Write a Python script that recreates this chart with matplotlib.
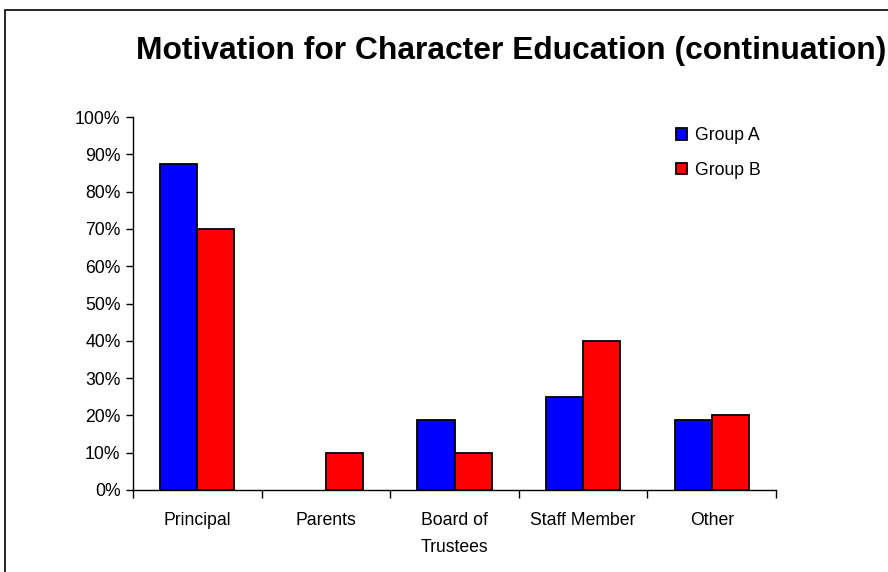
"""Grouped bar chart: motivation for character education (continuation)."""

import matplotlib
matplotlib.use('Agg')
import matplotlib.pyplot as plt
import numpy as np
from matplotlib.patches import Rectangle
from matplotlib.ticker import FuncFormatter, FixedLocator


categories = ['Principal', 'Parents', 'Board of\nTrustees', 'Staff Member', 'Other']
group_a = [87.5, 0.0, 18.75, 25.0, 18.75]
group_b = [70.0, 10.0, 10.0, 40.0, 20.0]
series_names = ['Group A', 'Group B']
title = 'Motivation for Character Education (continuation)'

_W, _H = 888, 572


def _main():
    plt.rcParams['font.family'] = ['Liberation Sans', 'DejaVu Sans']

    fig = plt.figure(figsize=(_W / 100, _H / 100), dpi=100)
    fig.patch.set_facecolor('white')

    # outer frame (right and bottom fall outside the picture)
    fig.patches.append(Rectangle((5 / _W, -0.05), 1.2, 1.05 - 10 / _H,
                                 transform=fig.transFigure, fill=False,
                                 edgecolor='black', linewidth=1.2))

    fig.text(136 / _W, 1 - 51 / _H, title, fontsize=22.9, fontweight='bold',
             ha='left', va='center')

    ax = fig.add_axes([133 / _W, 1 - 490 / _H, (776 - 133) / _W, (490 - 117) / _H])

    x = np.arange(len(categories))
    w = 0.288
    lw_a = [1.3 if v > 0 else 0 for v in group_a]
    lw_b = [1.3 if v > 0 else 0 for v in group_b]
    ax.bar(x - w / 2, group_a, w, color='#0000ff', edgecolor='black',
           linewidth=lw_a, label=series_names[0])
    ax.bar(x + w / 2, group_b, w, color='#ff0000', edgecolor='black',
           linewidth=lw_b, label=series_names[1])

    ax.set_xlim(-0.5, len(categories) - 0.5)
    ax.set_ylim(0, 100)
    ax.set_yticks(np.arange(0, 101, 10))
    ax.yaxis.set_major_formatter(FuncFormatter(lambda v, p: '%d%%' % v))

    ax.set_xticks(x)
    ax.set_xticklabels(categories, fontsize=12.7, linespacing=1.75)
    ax.xaxis.set_minor_locator(FixedLocator(np.arange(-0.5, len(categories), 1)))
    ax.tick_params(axis='x', which='major', length=0, pad=16)
    ax.tick_params(axis='x', which='minor', length=6, width=1, direction='out')
    ax.tick_params(axis='y', labelsize=12.7, length=5, width=1, direction='out', pad=4)

    for s in ['top', 'right']:
        ax.spines[s].set_visible(False)
    for s in ['left', 'bottom']:
        ax.spines[s].set_linewidth(1)

    ax.legend(loc='upper left', bbox_to_anchor=(676 / _W, 1 - 127 / _H),
              bbox_transform=fig.transFigure, frameon=False, fontsize=12.7,
              handlelength=0.65, handleheight=0.65, handletextpad=0.45,
              labelspacing=1.0, borderaxespad=0, borderpad=0)

    fig.savefig('out.png', dpi=100)


if __name__ == '__main__':
    _main()
